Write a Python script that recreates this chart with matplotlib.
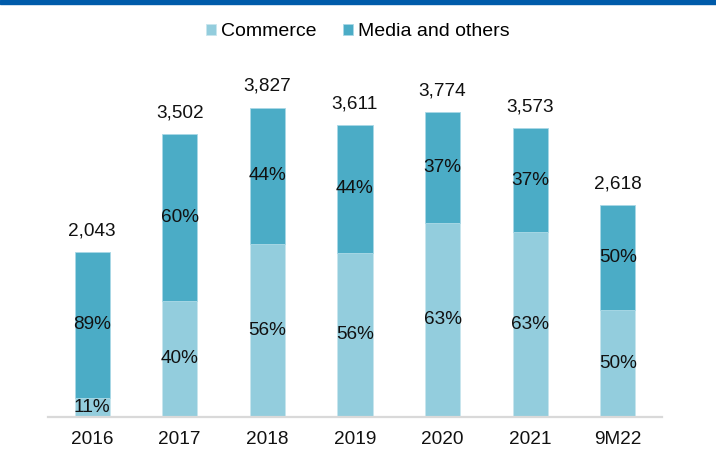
import matplotlib
matplotlib.use('Agg')
import matplotlib.pyplot as plt
from matplotlib.patches import Rectangle

plt.rcParams['font.family'] = ['Liberation Sans', 'DejaVu Sans']

# data
periods = ['2016', '2017', '2018', '2019', '2020', '2021', '9M22']
commerce = [231, 1436, 2142, 2031, 2395, 2287, 1321]
media = [1812, 2066, 1685, 1580, 1379, 1286, 1297]
total_labels = ['2,043', '3,502', '3,827', '3,611', '3,774', '3,573', '2,618']
commerce_pct = ['11%', '40%', '56%', '56%', '63%', '63%', '50%']
media_pct = ['89%', '60%', '44%', '44%', '37%', '37%', '50%']

colors = {'commerce': '#93CDDD', 'media': '#4BACC6'}

W, H = 716, 455
fig = plt.figure(figsize=(W / 100, H / 100), dpi=100)

# axes placed in pixel terms
left, right, bottom, top = 48.3, 661.7, 416.7, 416.7 - 4400 * 0.08076
ax = fig.add_axes([left / W, (H - bottom) / H, (right - left) / W, (bottom - top) / H])

x = list(range(len(periods)))
bars_c = ax.bar(x, commerce, width=0.4, color=colors['commerce'],
                edgecolor='#c8e6ee', linewidth=0.6, label='Commerce')
bars_m = ax.bar(x, media, width=0.4, bottom=commerce, color=colors['media'],
                edgecolor='#a9d8e6', linewidth=0.6, label='Media and others')

fs = 13.7
# percentage labels inside segments, totals above the bars
for i in x:
    ax.text(i, commerce[i] / 2, commerce_pct[i], ha='center', va='center',
            fontsize=fs, color='#111111')
    ax.text(i, commerce[i] + media[i] / 2, media_pct[i], ha='center', va='center',
            fontsize=fs, color='#111111')
    ax.annotate(total_labels[i], (i, commerce[i] + media[i]), xytext=(0, 12),
                textcoords='offset points', ha='center', va='baseline',
                fontsize=fs, color='#111111')

ax.set_xlim(-0.5, 6.5)
ax.set_ylim(0, 4400)
ax.set_xticks(x)
ax.set_xticklabels(periods, fontsize=fs, color='#111111')
ax.tick_params(axis='x', length=0, pad=10.5)
ax.set_yticks([])
for side in ['top', 'right', 'left']:
    ax.spines[side].set_visible(False)
ax.spines['bottom'].set_color('#D9D9D9')
ax.spines['bottom'].set_linewidth(1.6)

fig.legend(handles=[bars_c, bars_m], loc='center', bbox_to_anchor=(0.5, 1 - 31.7 / H),
           ncol=2, frameon=False, fontsize=14, handlelength=0.52, handleheight=0.52,
           handletextpad=0.26, columnspacing=1.37)

# blue band at the very top
fig.patches.append(Rectangle((0, 1 - 4 / H), 1, 4 / H, transform=fig.transFigure,
                             color='#005BAA', zorder=5))

fig.savefig('out.png', dpi=100)
